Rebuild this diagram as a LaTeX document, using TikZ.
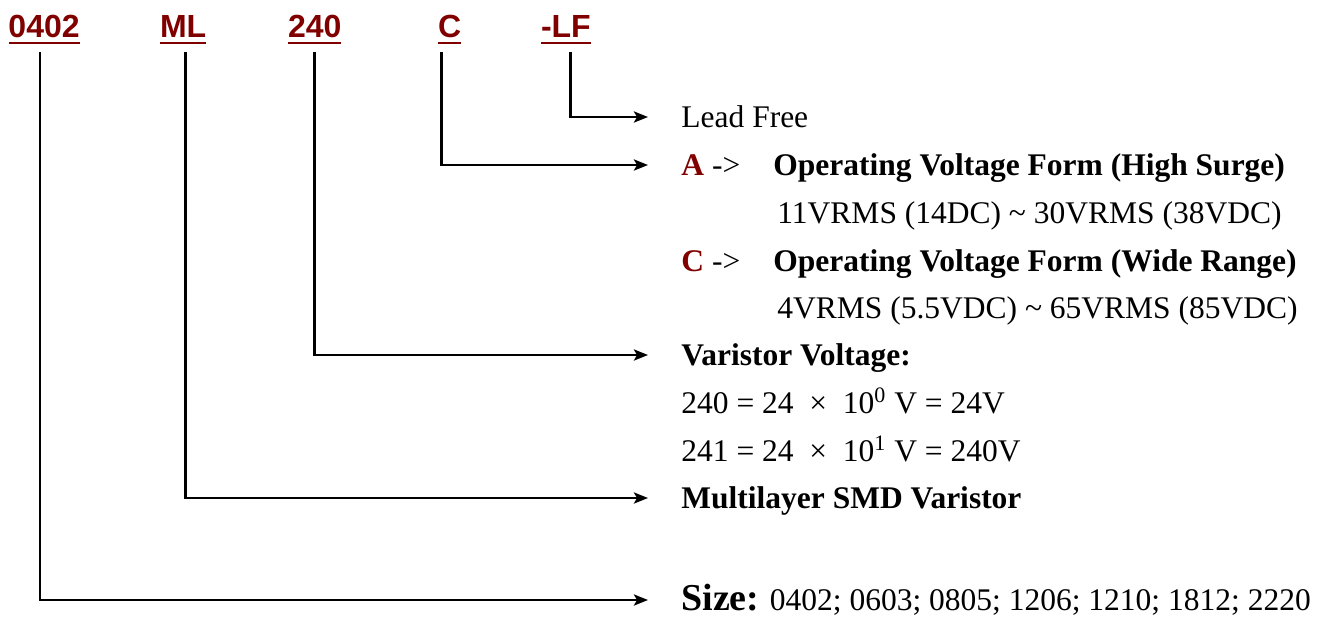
\documentclass[tikz,border=0pt]{standalone}
\usepackage{fontspec}
\setmainfont{Liberation Serif}
\setsansfont{Liberation Sans}
\usetikzlibrary{arrows.meta}
\definecolor{darkred}{HTML}{800000}
\newcommand{\bodysize}{\fontsize{15.75}{19}\selectfont}

\begin{document}
\begin{tikzpicture}[x=0.5pt, y=-0.5pt]
\tikzset{
    code/.style={font=\sffamily\bfseries\fontsize{16}{19}\selectfont, text=darkred,
        inner sep=0pt, outer xsep=0pt, outer ysep=7.5pt, text depth=0pt, anchor=base west},
    desc/.style={font=\bodysize, inner sep=0pt, anchor=west, text height=10.4pt, text depth=0pt},
    conn/.style={line width=1.35pt, -{Stealth[length=7pt,width=5.5pt,inset=1.5pt]}, shorten >=16.5pt},
}
\useasboundingbox (0,0) rectangle (1333,618);

% Part number fields
\node[code] (size) at (8.5,37) {0402};
\node[code] (ml)   at (160,37) {ML};
\node[code] (volt) at (288,37) {240};
\node[code] (form) at (438,37) {C};
\node[code] (lf)   at (541,37) {-LF};

% Underlines
\foreach \n in {size,ml,volt,form,lf} {
    \draw[darkred, line width=1.4pt] ([yshift=-3pt]\n.base west) -- ([yshift=-3pt]\n.base east);
}

% Descriptions
\node[desc] (leadfree) at (681,117) {Lead Free};
\node[desc] (formA) at (681,165) {\textcolor{darkred}{\textbf{A}} ->};
\node[desc, font=\bodysize\bfseries] (formAtxt) at (773,165) {Operating Voltage Form (High Surge)};
\node[desc] (rangeA) at (777,213) {11VRMS (14DC) \textasciitilde{} 30VRMS (38VDC)};
\node[desc] (formC) at (681,261) {\textcolor{darkred}{\textbf{C}} ->};
\node[desc, font=\bodysize\bfseries] (formCtxt) at (773,261) {Operating Voltage Form (Wide Range)};
\node[desc] (rangeC) at (777,308) {4VRMS (5.5VDC) \textasciitilde{} 65VRMS (85VDC)};
\node[desc, font=\bodysize\bfseries] (vvolt) at (681,355) {Varistor Voltage:};
\node[desc] (ex0) at (681,403) {240 = 24~~×~~10\textsuperscript{0} V = 24V};
\node[desc] (ex1) at (681,451) {241 = 24~~×~~10\textsuperscript{1} V = 240V};
\node[desc, font=\bodysize\bfseries] (mlsmd) at (681,498) {Multilayer SMD Varistor};
\node[desc] (sizetxt) at (681,600) {{\fontsize{19}{22}\selectfont\bfseries Size:} 0402; 0603; 0805; 1206; 1210; 1812; 2220};

% Connectors
\foreach \src/\dx/\dst in {lf/2.25pt/leadfree, form/-4pt/formA, volt/0pt/vvolt, ml/1.25pt/mlsmd, size/-2pt/sizetxt} {
    \draw[conn] ([xshift=\dx]\src.south) |- (\dst.west);
}
\end{tikzpicture}
\end{document}
